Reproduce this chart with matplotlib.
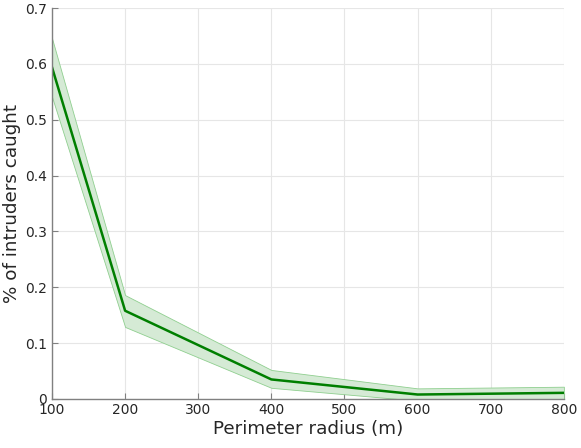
import numpy as np
import matplotlib
matplotlib.use('Agg')
import matplotlib.pyplot as plt

# perimeter radius vs fraction caught
radius = [100, 200, 400, 600, 800]
caught = [0.594, 0.158, 0.035, 0.008, 0.011]
caught_hi = [0.646, 0.186, 0.052, 0.019, 0.022]
caught_lo = [0.541, 0.129, 0.020, -0.003, 0.000]

fig = plt.figure(figsize=(5.81, 4.48), dpi=100)
ax = fig.add_axes([0.0895, 0.1094, 0.881, 0.8726])

ax.fill_between(radius, caught_lo, caught_hi, facecolor='#d5ead5', edgecolor='#8fcf8f', linewidth=0.6)
ax.plot(radius, caught, color='#007f00', linewidth=1.8)

ax.set_xlim(100, 800)
ax.set_ylim(0, 0.7)
ax.set_xticks(np.arange(100, 801, 100))
ax.set_yticks(np.arange(0, 0.71, 0.1))
ax.set_yticklabels(['0', '0.1', '0.2', '0.3', '0.4', '0.5', '0.6', '0.7'])
ax.grid(True, color='#e6e6e6', linewidth=0.8)
ax.set_axisbelow(True)

for s in ['top', 'right']:
    ax.spines[s].set_visible(False)
for s in ['left', 'bottom']:
    ax.spines[s].set_color('#808080')
    ax.spines[s].set_linewidth(1.0)
ax.tick_params(direction='in', length=4, color='#808080', labelsize=10, labelcolor='#262626')
ax.tick_params(axis='x', pad=3)

ax.set_xlabel('Perimeter radius (m)', fontsize=13.2, color='#262626', labelpad=2)
ax.set_ylabel('% of intruders caught', fontsize=13.2, color='#262626', labelpad=3)

fig.savefig('out.png', dpi=100)
